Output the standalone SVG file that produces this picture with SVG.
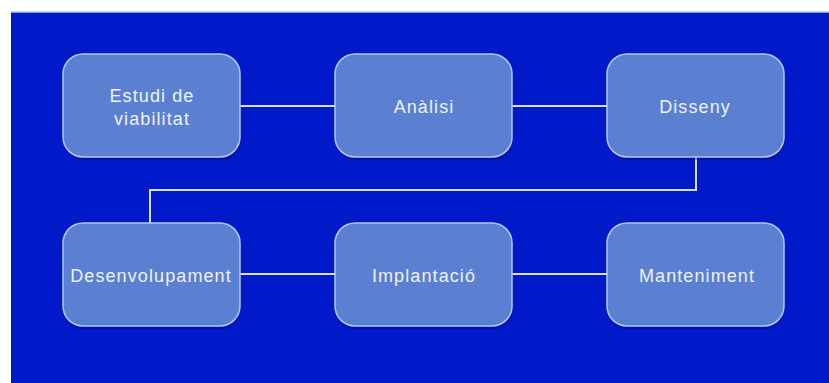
<svg xmlns="http://www.w3.org/2000/svg" width="829" height="383" viewBox="0 0 829 383">
  <style>
    .box { fill: #5b80d2; stroke: #b4c8f2; stroke-width: 1.5; }
    .shadow { fill: #000a70; opacity: 0.35; }
    .label { font-family: "Liberation Sans", Arial, sans-serif; font-size: 18px; fill: #eef2fb; text-anchor: middle; letter-spacing: 1.1px; }
    .link { fill: none; stroke: #d4e0fa; stroke-width: 2; }
  </style>

  <!-- background panel -->
  <rect x="0" y="0" width="829" height="383" fill="#ffffff"/>
  <rect x="11" y="12" width="818" height="371" fill="#0019c9"/>
  <line x1="11" y1="12" x2="829" y2="12" stroke="#b8c8f0" stroke-width="1.5"/>

  <!-- connectors -->
  <g id="connectors">
    <line class="link" x1="240" y1="106" x2="335" y2="106"/>
    <line class="link" x1="512" y1="106" x2="607" y2="106"/>
    <polyline class="link" points="696,157 696,190 150,190 150,223"/>
    <line class="link" x1="240" y1="274" x2="335" y2="274"/>
    <line class="link" x1="512" y1="274" x2="607" y2="274"/>
  </g>

  <g id="estudi">
    <rect class="shadow" x="64" y="57" width="177" height="103" rx="20"/>
    <rect class="box" x="63" y="54" width="177" height="103" rx="20"/>
    <text class="label" x="152" y="102">Estudi de</text>
    <text class="label" x="152" y="125">viabilitat</text>
  </g>

  <g id="analisi">
    <rect class="shadow" x="336" y="57" width="177" height="103" rx="20"/>
    <rect class="box" x="335" y="54" width="177" height="103" rx="20"/>
    <text class="label" x="424" y="113">Anàlisi</text>
  </g>

  <g id="disseny">
    <rect class="shadow" x="608" y="57" width="177" height="103" rx="20"/>
    <rect class="box" x="607" y="54" width="177" height="103" rx="20"/>
    <text class="label" x="695" y="113">Disseny</text>
  </g>

  <g id="desenvolupament">
    <rect class="shadow" x="64" y="226" width="177" height="103" rx="20"/>
    <rect class="box" x="63" y="223" width="177" height="103" rx="20"/>
    <text class="label" x="151" y="282">Desenvolupament</text>
  </g>

  <g id="implantacio">
    <rect class="shadow" x="336" y="226" width="177" height="103" rx="20"/>
    <rect class="box" x="335" y="223" width="177" height="103" rx="20"/>
    <text class="label" x="424" y="282">Implantació</text>
  </g>

  <g id="manteniment">
    <rect class="shadow" x="608" y="226" width="177" height="103" rx="20"/>
    <rect class="box" x="607" y="223" width="177" height="103" rx="20"/>
    <text class="label" x="697" y="282">Manteniment</text>
  </g>
</svg>
